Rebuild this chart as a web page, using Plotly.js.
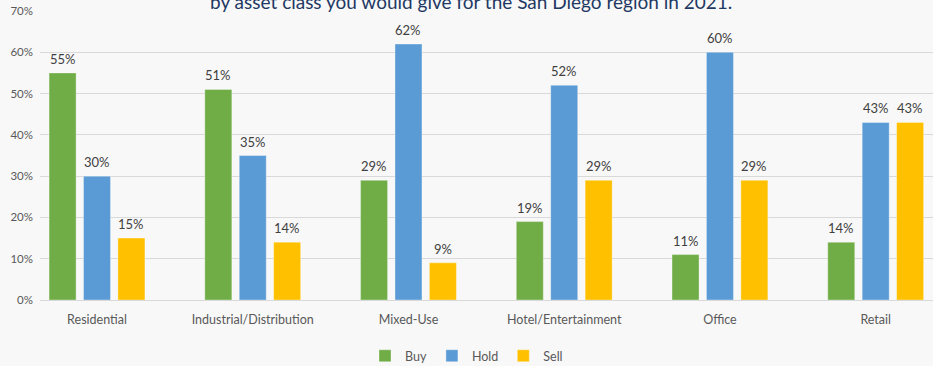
<!DOCTYPE html>
<html>
<head>
<meta charset="utf-8">
<script src="https://cdn.plot.ly/plotly-3.0.1.min.js"></script>
<style>
  html, body { margin: 0; padding: 0; background: #f8f8f8; }
  #chart { width: 933px; height: 366px; }
</style>
</head>
<body>
<div id="chart"></div>
<script>
const categories = ["Residential", "Industrial/Distribution", "Mixed-Use", "Hotel/Entertainment", "Office", "Retail"];
const seriesNames = ["Buy", "Hold", "Sell"];
const buyValues  = [0.55, 0.51, 0.29, 0.19, 0.11, 0.14];
const holdValues = [0.30, 0.35, 0.62, 0.52, 0.60, 0.43];
const sellValues = [0.15, 0.14, 0.09, 0.29, 0.29, 0.43];
const yTickValues = [0, 0.1, 0.2, 0.3, 0.4, 0.5, 0.6, 0.7];
const yTickLabels = ["0%", "10%", "20%", "30%", "40%", "50%", "60%", "70%"];
const titleText = "by asset class you would give for the San Diego region in 2021.";

const FONT = "Lato, 'Open Sans', sans-serif";
const COLORS = ["#70ad47", "#5b9bd5", "#ffc000"];
const allValues = [buyValues, holdValues, sellValues];

const data = allValues.map((vals, i) => ({
  type: "bar",
  name: seriesNames[i],
  x: categories,
  y: vals,
  marker: { color: COLORS[i], line: { color: "rgba(255,255,255,0.35)", width: 1 } },
  hoverinfo: "skip"
}));

// value labels above each bar, positioned through the axes from the data
const GROUP_OFFSETS = [-34.4, 0, 34.4];
const annotations = [];
allValues.forEach((vals, i) => {
  vals.forEach((v, j) => {
    annotations.push({
      x: categories[j], y: v, xref: "x", yref: "y",
      text: Math.round(v * 100) + "%",
      showarrow: false,
      xanchor: "center", yanchor: "bottom",
      xshift: GROUP_OFFSETS[i], yshift: 4,
      font: { family: FONT, size: 13, color: "#404040" }
    });
  });
});

const layout = {
  width: 933,
  height: 366,
  paper_bgcolor: "#f8f8f8",
  plot_bgcolor: "#f8f8f8",
  margin: { l: 40, r: 0, t: 11, b: 66, pad: 0, autoexpand: false },
  barmode: "group",
  bargap: 0.337,
  bargroupgap: 0.215,
  font: { family: FONT, size: 12, color: "#595959" },
  title: {
    text: titleText,
    font: { family: FONT, size: 19, color: "#1f3864" },
    x: 0.505, xanchor: "center",
    y: 0.9945, yanchor: "middle",
    xref: "container", yref: "container"
  },
  annotations: annotations,
  xaxis: {
    type: "category",
    range: [-0.366, 5.368],
    showgrid: false,
    zeroline: false,
    showline: false,
    ticks: "",
    automargin: false,
    tickfont: { family: FONT, size: 12.5, color: "#595959" },
    ticklabelstandoff: 10,
    fixedrange: true
  },
  yaxis: {
    range: [0, 0.7],
    tickvals: yTickValues,
    ticktext: yTickLabels,
    showgrid: true,
    gridcolor: "#d9d9d9",
    gridwidth: 1,
    zeroline: true,
    zerolinecolor: "#d9d9d9",
    zerolinewidth: 1,
    showline: false,
    ticks: "",
    automargin: false,
    tickfont: { family: FONT, size: 11.5, color: "#595959" },
    ticklabelstandoff: 6,
    fixedrange: true
  },
  showlegend: true,
  legend: {
    orientation: "h",
    x: 0.5, xanchor: "center", xref: "container",
    y: 0.027, yanchor: "middle", yref: "container",
    font: { family: FONT, size: 12.5, color: "#595959" },
    itemwidth: 30,
    bgcolor: "rgba(0,0,0,0)"
  }
};

Plotly.newPlot("chart", data, layout, { displayModeBar: false, staticPlot: true });
</script>
</body>
</html>
